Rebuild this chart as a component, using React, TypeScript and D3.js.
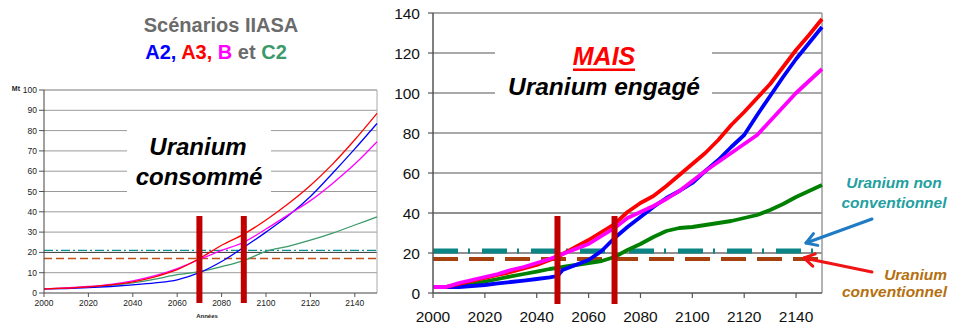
import React from "react";
import * as d3 from "d3";

// ---------- Data ----------
const yearsLeft = [2000, 2010, 2020, 2030, 2040, 2050, 2060, 2070, 2080, 2090, 2100, 2110, 2120, 2130, 2140, 2150];
const a2Left = [2, 2.2, 2.6, 3.2, 4, 5, 6.5, 10, 15.5, 22.5, 30, 38, 47.5, 59, 71, 83.5];
const a3Left = [2, 2.4, 3, 4, 5.5, 8, 11.5, 17, 23.5, 29, 36, 44, 53, 63.5, 75.5, 88.5];
const bLeft = [2, 2.5, 3.2, 4.3, 6, 8.5, 12, 16.5, 21, 25, 31.5, 38.5, 45.5, 54, 63.5, 74.5];
const c2Left = [2, 2.4, 3, 3.8, 5, 6.8, 9, 10.5, 13, 16, 20.5, 23, 26, 29.5, 33.5, 37.5];

const yearsRight = [2000, 2005, 2010, 2015, 2020, 2025, 2030, 2035, 2040, 2045, 2048, 2050, 2055, 2060, 2065, 2070, 2075, 2080, 2085, 2090, 2095, 2100, 2105, 2110, 2115, 2120, 2125, 2130, 2135, 2140, 2145, 2150];
const a2Right = [3, 3, 3, 3.5, 4, 4.8, 5.5, 6.2, 7, 7.8, 8.5, 11.5, 14, 16.5, 21, 27.5, 33, 38, 43, 47.5, 51, 55, 61, 66.5, 73, 79, 89, 98.5, 108, 117, 125, 133];
const a3Right = [3, 3, 4.5, 6, 7.5, 9, 10.5, 12.3, 14, 16.5, 18, 19.5, 23, 26.5, 30.5, 34.5, 40.5, 45, 48.5, 53.5, 59, 64.5, 70, 76.5, 84, 90.5, 97.5, 104.5, 113, 121.5, 129, 137];
const bRight = [3, 3, 5, 6.5, 8, 9.5, 11.5, 13, 15, 17, 18.5, 19.5, 22, 24.5, 28.5, 32.5, 37.5, 40.5, 43.5, 47, 51, 56, 61, 65.5, 70, 74.5, 79, 86, 93, 100, 106, 112];
const c2Right = [3, 3, 3.5, 4.5, 5.7, 7, 8.3, 9.5, 10.7, 12, 12.6, 13, 14, 15, 16, 18, 21.5, 24.5, 28, 31, 32.5, 33, 34, 35, 36, 37.5, 39, 41.5, 44.5, 48, 51, 54];

const yTicksLeft = [0, 10, 20, 30, 40, 50, 60, 70, 80, 90, 100];
const xTicksLeft = [2000, 2020, 2040, 2060, 2080, 2100, 2120, 2140];
const yTicksRight = [0, 20, 40, 60, 80, 100, 120, 140];
const xTicksRight = [2000, 2020, 2040, 2060, 2080, 2100, 2120, 2140];

const unconventionalLevel = 21;
const conventionalLevel = 17;
const barYearsLeft = [2070, 2090];
const barYearsRight = [2048, 2070];

const FONT = "'Liberation Sans', Arial, sans-serif";
const C_A2 = "#0000ff";
const C_A3 = "#ff0000";
const C_B = "#ff00ff";
const C_C2L = "#3a9a6a";
const C_C2R = "#008000";
const C_TEAL = "#0a8585";
const C_BROWN = "#a4410e";
const C_BAR = "#c00000";

export default function App() {
  const xL = d3.scaleLinear().domain([2000, 2150]).range([44, 377]);
  const yL = d3.scaleLinear().domain([0, 100]).range([293, 90]);
  const xR = d3.scaleLinear().domain([2000, 2150]).range([433, 822]);
  const yR = d3.scaleLinear().domain([0, 140]).range([293, 13]);

  const lineL = (vals: number[]) =>
    d3.line<number>().x((_, i) => xL(yearsLeft[i])).y((v) => yL(v)).curve(d3.curveMonotoneX)(vals) || "";
  const lineR = (vals: number[]) =>
    d3.line<number>().x((_, i) => xR(yearsRight[i])).y((v) => yR(v)).curve(d3.curveLinear)(vals) || "";

  const seriesL = [
    { v: c2Left, c: C_C2L },
    { v: a2Left, c: C_A2 },
    { v: bLeft, c: C_B },
    { v: a3Left, c: C_A3 },
  ];
  const seriesR = [
    { v: c2Right, c: C_C2R },
    { v: a2Right, c: C_A2 },
    { v: a3Right, c: C_A3 },
    { v: bRight, c: C_B },
  ];

  const arrow = (x1: number, y1: number, x2: number, y2: number, color: string) => {
    const ang = Math.atan2(y1 - y2, x1 - x2);
    const L = 12;
    const a = 0.55;
    const p1 = [x2 + L * Math.cos(ang + a), y2 + L * Math.sin(ang + a)];
    const p2 = [x2 + L * Math.cos(ang - a), y2 + L * Math.sin(ang - a)];
    return (
      <g stroke={color} strokeWidth={3} fill="none" strokeLinecap="round" strokeLinejoin="round">
        <line x1={x1} y1={y1} x2={x2} y2={y2} />
        <polyline points={`${p1[0]},${p1[1]} ${x2},${y2} ${p2[0]},${p2[1]}`} />
      </g>
    );
  };

  return (
    <svg
      width={955}
      height={327}
      style={{ position: "absolute", left: 0, top: 0, background: "#fff" }}
      fontFamily={FONT}
    >
      <rect x={0} y={0} width={955} height={327} fill="#fff" />

      {/* ---------------- LEFT CHART ---------------- */}
      <text x={221} y={32} textAnchor="middle" fontSize={20} fontWeight="bold" fill="#6b6b6b">
        Scénarios IIASA
      </text>
      <text x={216} y={59} textAnchor="middle" fontSize={20} fontWeight="bold">
        <tspan fill={C_A2}>A2, </tspan>
        <tspan fill={C_A3}>A3, </tspan>
        <tspan fill={C_B}>B </tspan>
        <tspan fill="#6b6b6b">et </tspan>
        <tspan fill="#3a9a6a">C2</tspan>
      </text>

      {yTicksLeft.map((t) => (
        <g key={"gl" + t}>
          {t > 0 && (
            <line x1={44} x2={377} y1={yL(t)} y2={yL(t)} stroke={t === 20 ? "#333" : "#9a9a9a"} strokeWidth={1} />
          )}
          <line x1={39} x2={44} y1={yL(t)} y2={yL(t)} stroke="#555" strokeWidth={1} />
          <text x={37} y={yL(t) + 3} textAnchor="end" fontSize={8.5} fill="#222">
            {t}
          </text>
        </g>
      ))}
      <line x1={377} x2={377} y1={90} y2={293} stroke="#aaa" strokeWidth={1} />
      <line x1={44} x2={377} y1={90} y2={90} stroke="#aaa" strokeWidth={1} />
      <rect x={127} y={118} width={144} height={82} fill="#fff" />
      <text x={198} y={155} textAnchor="middle" fontSize={24} fontWeight="bold" fontStyle="italic" fill="#000">
        Uranium
      </text>
      <text x={199} y={185} textAnchor="middle" fontSize={24} fontWeight="bold" fontStyle="italic" fill="#000">
        consommé
      </text>
      <text x={20} y={91} textAnchor="end" fontSize={7} fontWeight="bold" fill="#222">
        Mt
      </text>

      <line x1={44} x2={377} y1={yL(unconventionalLevel)} y2={yL(unconventionalLevel)} stroke="#0a9090" strokeWidth={1.3} strokeDasharray="9 3 2 3" />
      <line x1={44} x2={377} y1={yL(conventionalLevel)} y2={yL(conventionalLevel)} stroke="#c0501a" strokeWidth={1.3} strokeDasharray="8 4" />

      {seriesL.map((s, i) => (
        <path key={"sl" + i} d={lineL(s.v)} fill="none" stroke={s.c} strokeWidth={1.3} />
      ))}

      <line x1={44} x2={44} y1={90} y2={293} stroke="#444" strokeWidth={1} />
      <line x1={44} x2={377} y1={293} y2={293} stroke="#444" strokeWidth={1} />
      {xTicksLeft.map((t) => (
        <g key={"xl" + t}>
          <line x1={xL(t)} x2={xL(t)} y1={293} y2={297} stroke="#555" strokeWidth={1} />
          <text x={xL(t)} y={306} textAnchor="middle" fontSize={8.5} fill="#222">
            {t}
          </text>
        </g>
      ))}
      <text x={207} y={318} textAnchor="middle" fontSize={6} fontWeight="bold" fill="#222">
        Années
      </text>

      {barYearsLeft.map((yr) => (
        <rect key={"bl" + yr} x={xL(yr) - 3} y={216} width={6} height={87} fill={C_BAR} />
      ))}

      {/* ---------------- RIGHT CHART ---------------- */}
      {yTicksRight.map((t) => (
        <g key={"gr" + t}>
          {t > 0 && (
            <line
              x1={433}
              x2={822}
              y1={yR(t)}
              y2={yR(t)}
              stroke={t === 20 || t === 40 ? "#222" : "#8c8c8c"}
              strokeWidth={t === 20 || t === 40 ? 1 : 1.5}
            />
          )}
          <line x1={428} x2={433} y1={yR(t)} y2={yR(t)} stroke="#555" strokeWidth={1.2} />
          <text x={420} y={yR(t) + 5.5} textAnchor="end" fontSize={15.5} fill="#111">
            {t}
          </text>
        </g>
      ))}
      <line x1={822} x2={822} y1={13} y2={293} stroke="#9a9a9a" strokeWidth={1.5} />
      <rect x={495} y={35} width={217} height={80} fill="#fff" />
      <text x={604} y={65} textAnchor="middle" fontSize={25} fontWeight="bold" fontStyle="italic" fill="#ff0000">
        MAIS
      </text>
      <rect x={573} y={68.5} width={62} height={2.5} fill="#ff0000" />
      <text x={604} y={95} textAnchor="middle" fontSize={24.5} fontWeight="bold" fontStyle="italic" fill="#000">
        Uranium engagé
      </text>

      <line x1={433} x2={815} y1={yR(unconventionalLevel)} y2={yR(unconventionalLevel)} stroke={C_TEAL} strokeWidth={5} strokeDasharray="25 10 2 12" />
      <line x1={433} x2={818} y1={yR(conventionalLevel)} y2={yR(conventionalLevel)} stroke={C_BROWN} strokeWidth={4} strokeDasharray="25 11" />

      {seriesR.map((s, i) => (
        <path key={"sr" + i} d={lineR(s.v)} fill="none" stroke={s.c} strokeWidth={3.8} strokeLinejoin="round" />
      ))}

      <line x1={433} x2={433} y1={13} y2={293} stroke="#555" strokeWidth={1.5} />
      <line x1={433} x2={822} y1={293} y2={293} stroke="#555" strokeWidth={1.5} />
      {xTicksRight.map((t) => (
        <g key={"xr" + t}>
          <line x1={xR(t)} x2={xR(t)} y1={293} y2={298} stroke="#555" strokeWidth={1.2} />
          <text x={xR(t)} y={322} textAnchor="middle" fontSize={15.5} fill="#111">
            {t}
          </text>
        </g>
      ))}

      {barYearsRight.map((yr) => (
        <rect key={"br" + yr} x={xR(yr) - 3} y={216} width={6} height={88} fill={C_BAR} />
      ))}

      {arrow(872, 219, 806, 243, "#1f7bc4")}
      {arrow(872, 272, 804, 258, "#f01414")}

      <text x={894} y={188} textAnchor="middle" fontSize={15.5} fontWeight="bold" fontStyle="italic" fill="#22a0a0">
        Uranium non
      </text>
      <text x={894} y={208} textAnchor="middle" fontSize={15.5} fontWeight="bold" fontStyle="italic" fill="#22a0a0">
        conventionnel
      </text>
      <text x={947} y={280} textAnchor="end" fontSize={15.5} fontWeight="bold" fontStyle="italic" fill="#b5700f">
        Uranium
      </text>
      <text x={947} y={297} textAnchor="end" fontSize={15.5} fontWeight="bold" fontStyle="italic" fill="#b5700f">
        conventionnel
      </text>
    </svg>
  );
}
